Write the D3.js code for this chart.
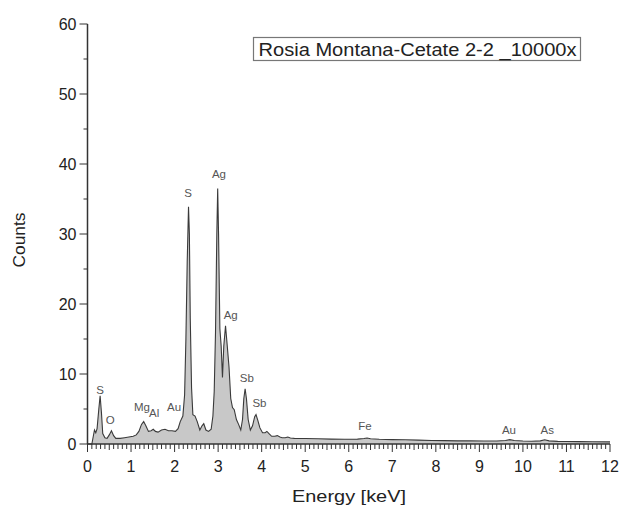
<!DOCTYPE html>
<html><head><meta charset="utf-8">
<script src="https://cdn.jsdelivr.net/npm/d3@7/dist/d3.min.js"></script>
<style>body{margin:0;background:#fff;}text{font-family:"Liberation Sans",Arial,sans-serif;}</style>
</head><body>
<svg id="c" width="621" height="507"></svg>
<script>
const energy = [0.00,0.10,0.13,0.16,0.19,0.22,0.26,0.29,0.32,0.35,0.40,0.45,0.50,0.55,0.60,0.65,0.75,0.85,0.95,1.05,1.12,1.18,1.24,1.29,1.34,1.40,1.46,1.51,1.56,1.62,1.70,1.78,1.86,1.94,2.02,2.08,2.13,2.19,2.23,2.26,2.29,2.32,2.34,2.36,2.39,2.42,2.47,2.52,2.58,2.63,2.67,2.72,2.78,2.84,2.88,2.91,2.94,2.97,2.99,3.01,3.04,3.07,3.10,3.13,3.17,3.21,3.25,3.29,3.33,3.37,3.42,3.47,3.52,3.56,3.59,3.62,3.65,3.69,3.74,3.79,3.84,3.87,3.91,3.96,4.02,4.08,4.12,4.18,4.23,4.30,4.36,4.42,4.47,4.54,4.60,4.66,4.75,5.0,5.3,5.6,5.9,6.2,6.35,6.42,6.5,6.7,7.0,7.3,7.6,7.9,8.2,8.5,8.8,9.1,9.4,9.6,9.7,9.8,10.0,10.2,10.4,10.5,10.6,10.8,11.0,11.3,11.6,12.0];
const counts = [0,0,1.0,2.0,1.6,2.2,5.0,6.9,4.5,1.5,0.9,0.8,1.3,1.9,1.2,0.8,0.8,0.9,1.0,1.1,1.3,1.8,2.8,3.2,2.6,1.8,1.9,2.1,1.8,1.7,2.0,2.1,1.9,1.9,1.8,2.2,3.2,4.0,7,15,26,33.9,30,18,8,4.2,4.0,3.2,2.0,2.6,2.9,2.0,1.8,2.1,4,7.5,16,30,36.5,30,16.5,14,9.5,14,16.9,14,11,6.5,5.2,4.9,3.5,2.8,2.0,3.5,6.5,7.9,6.5,3.5,2.0,2.6,3.9,4.2,3.4,2.3,1.6,1.6,1.8,1.4,1.1,1.1,1.2,1.0,0.9,0.9,1.0,0.85,0.8,0.78,0.75,0.7,0.68,0.7,0.78,0.85,0.75,0.68,0.62,0.6,0.56,0.5,0.48,0.45,0.44,0.42,0.42,0.5,0.62,0.5,0.42,0.4,0.45,0.6,0.45,0.38,0.36,0.34,0.32,0.3];
const peakNames = ["S","O","Mg","Al","Au","S","Ag","Ag","Sb","Sb","Fe","Au","As"];
const peakEnergy = [0.29,0.52,1.25,1.53,1.99,2.31,3.02,3.29,3.66,3.95,6.37,9.68,10.56];
const peakCounts = [7.7,3.4,5.3,4.4,5.3,35.9,38.6,18.4,9.5,5.9,2.6,2.0,2.0];
const xTicks = [0,1,2,3,4,5,6,7,8,9,10,11,12];
const yTicks = [0,10,20,30,40,50,60];
const legendText = "Rosia Montana-Cetate 2-2 _10000x";
const xTitle = "Energy [keV]";
const yTitle = "Counts";

const svg = d3.select("#c");
const x = d3.scaleLinear().domain([0,12]).range([87.5,610]);
const y = d3.scaleLinear().domain([0,60]).range([444,24]);
const data = energy.map((e,i)=>({e, c:counts[i]}));

const area = d3.area().x(d=>x(d.e)).y0(y(0)).y1(d=>y(d.c));
const line = d3.line().x(d=>x(d.e)).y(d=>y(d.c));
svg.append("path").datum(data).attr("d",area).attr("fill","#c8c8c8");
svg.append("path").datum(data).attr("d",line).attr("fill","none").attr("stroke","#3a3a3a").attr("stroke-width",1.1);

// x axis
const minorX = d3.range(0,12.001,0.1).map(v=>+v.toFixed(1));
svg.append("g").selectAll("line").data(minorX).join("line")
  .attr("x1",d=>x(d)).attr("x2",d=>x(d)).attr("y1",y(0)).attr("y2",d=> Number.isInteger(d)?y(0)+8:(Math.abs(d*2-Math.round(d*2))<1e-6? y(0)+6 : y(0)+5))
  .attr("stroke","#333").attr("stroke-width",1);
svg.append("line").attr("x1",x(0)).attr("x2",x(12)).attr("y1",y(0)).attr("y2",y(0)).attr("stroke","#333").attr("stroke-width",1.5);
svg.append("g").selectAll("text").data(xTicks).join("text")
  .attr("x",d=>x(d)).attr("y",y(0)+28).attr("text-anchor","middle").attr("font-size",16).attr("fill","#222").text(d=>d);

// y axis
const minorY = d3.range(5,60,10);
svg.append("g").selectAll("line").data(minorY).join("line")
  .attr("x1",x(0)-4).attr("x2",x(0)).attr("y1",d=>y(d)).attr("y2",d=>y(d)).attr("stroke","#333");
svg.append("g").selectAll("line").data(yTicks).join("line")
  .attr("x1",x(0)-8).attr("x2",x(0)).attr("y1",d=>y(d)).attr("y2",d=>y(d)).attr("stroke","#333");
svg.append("line").attr("x1",x(0)).attr("x2",x(0)).attr("y1",y(0)).attr("y2",y(60)).attr("stroke","#333").attr("stroke-width",1.5);
svg.append("g").selectAll("text").data(yTicks).join("text")
  .attr("x",x(0)-11).attr("y",d=>y(d)+5.5).attr("text-anchor","end").attr("font-size",16).attr("fill","#222").text(d=>d);

// titles
svg.append("text").attr("x",349).attr("y",502).attr("text-anchor","middle").attr("font-size",17)
  .attr("textLength",114).attr("lengthAdjust","spacingAndGlyphs").attr("fill","#222").text(xTitle);
svg.append("text").attr("transform","translate(25,240) rotate(-90)").attr("text-anchor","middle").attr("font-size",17)
  .attr("textLength",55).attr("lengthAdjust","spacingAndGlyphs").attr("fill","#222").text(yTitle);

// peak labels
svg.append("g").selectAll("text").data(peakNames).join("text")
  .attr("x",(d,i)=>x(peakEnergy[i])).attr("y",(d,i)=>y(peakCounts[i])).attr("dy","0.35em")
  .attr("text-anchor","middle").attr("font-size",11.5).attr("fill","#555").text(d=>d);

// legend box
svg.append("rect").attr("x",253.5).attr("y",37.5).attr("width",327).attr("height",23).attr("fill","#fff").attr("stroke","#777").attr("stroke-width",1.2);
svg.append("text").attr("x",417.5).attr("y",55.5).attr("text-anchor","middle").attr("font-size",17.5)
  .attr("textLength",318).attr("lengthAdjust","spacingAndGlyphs").attr("fill","#222").text(legendText);
</script>
</body></html>
